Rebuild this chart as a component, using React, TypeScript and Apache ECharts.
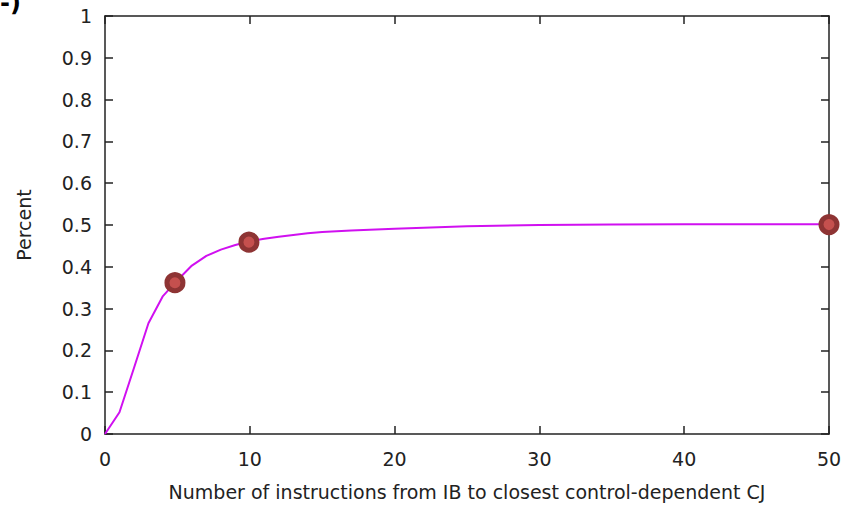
import React, { useEffect, useRef } from "react";
import * as echarts from "echarts";

const curveX = [0, 1, 2, 3, 4, 5, 6, 7, 8, 9, 10, 11, 12, 13, 14, 15, 17, 20, 25, 30, 35, 40, 45, 50];
const curveY = [0, 0.052, 0.158, 0.265, 0.33, 0.368, 0.403, 0.426, 0.441, 0.452, 0.461, 0.467, 0.472, 0.476, 0.48, 0.483, 0.487, 0.491, 0.497, 0.5, 0.501, 0.502, 0.502, 0.502];
const markX = [4.83, 9.94, 50];
const markY = [0.362, 0.459, 0.501];
const xTicks = [0, 10, 20, 30, 40, 50];
const yTicks = [0, 0.1, 0.2, 0.3, 0.4, 0.5, 0.6, 0.7, 0.8, 0.9, 1];

const FONT = "DejaVu Sans";

export default function App() {
  const ref = useRef<HTMLDivElement>(null);
  useEffect(() => {
    document.body.style.margin = "0";
    const chart = echarts.init(ref.current!, null, { renderer: "svg" });
    const axisLine = { show: true, onZero: false, lineStyle: { color: "#222", width: 1.5 } };
    const tick = { show: true, inside: true, length: 8, lineStyle: { color: "#222", width: 1.5 } };
    chart.setOption({
      animation: false,
      backgroundColor: "#fff",
      grid: { left: 105, right: 19, top: 16, bottom: 67, containLabel: false },
      graphic: [
        {
          type: "text",
          left: 0,
          top: -9,
          style: { text: "-)", font: `bold 24px ${FONT}`, fill: "#000" },
        },
      ],
      xAxis: [
        {
          type: "value",
          min: xTicks[0],
          max: xTicks[xTicks.length - 1],
          interval: 10,
          axisLine,
          axisTick: tick,
          splitLine: { show: false },
          axisLabel: { color: "#222", fontFamily: FONT, fontSize: 19, margin: 15 },
          name: "Number of instructions from IB to closest control-dependent CJ",
          nameLocation: "middle",
          nameGap: 48,
          nameTextStyle: { color: "#222", fontFamily: FONT, fontSize: 19 },
        },
        {
          type: "value",
          position: "top",
          min: 0,
          max: 50,
          interval: 10,
          axisLine,
          axisTick: tick,
          splitLine: { show: false },
          axisLabel: { show: false },
        },
      ],
      yAxis: [
        {
          type: "value",
          min: yTicks[0],
          max: yTicks[yTicks.length - 1],
          interval: 0.1,
          axisLine,
          axisTick: tick,
          splitLine: { show: false },
          axisLabel: {
            color: "#222",
            fontFamily: FONT,
            fontSize: 19,
            margin: 13,
            formatter: (v: number) => String(Math.round(v * 10) / 10),
          },
          name: "Percent",
          nameLocation: "middle",
          nameGap: 72,
          nameTextStyle: { color: "#222", fontFamily: FONT, fontSize: 19 },
        },
        {
          type: "value",
          position: "right",
          min: 0,
          max: 1,
          interval: 0.1,
          axisLine,
          axisTick: tick,
          splitLine: { show: false },
          axisLabel: { show: false },
        },
      ],
      series: [
        {
          type: "line",
          data: curveX.map((x, i) => [x, curveY[i]]),
          showSymbol: false,
          symbol: "none",
          lineStyle: { color: "#d010f0", width: 2 },
          z: 2,
        },
        {
          type: "scatter",
          data: markX.map((x, i) => [x, markY[i]]),
          symbolSize: 16,
          clip: false,
          itemStyle: { color: "#c5504e", borderColor: "#8e3434", borderWidth: 5, opacity: 1 },
          z: 3,
        },
      ],
    });
    return () => chart.dispose();
  }, []);
  return <div ref={ref} style={{ position: "fixed", left: 0, top: 0, width: 848, height: 506 }} />;
}
